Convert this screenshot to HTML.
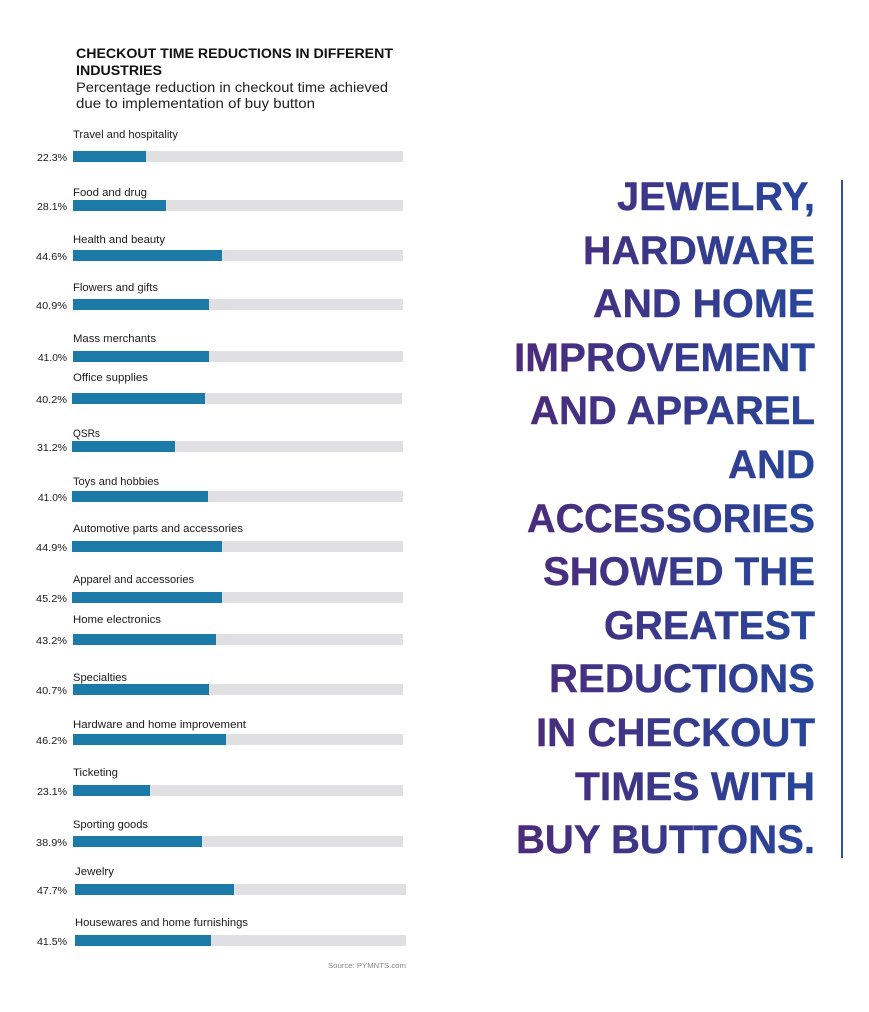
<!DOCTYPE html>
<html>
<head>
<meta charset="utf-8">
<style>
html,body{margin:0;padding:0;background:#fff;}
svg{display:block;}
text{font-family:"Liberation Sans",Arial,sans-serif;}
</style>
</head>
<body>
<svg width="869" height="1012" viewBox="0 0 869 1012" xmlns="http://www.w3.org/2000/svg">
<defs>
<linearGradient id="g" gradientUnits="userSpaceOnUse" x1="514" y1="0" x2="815" y2="0">
<stop offset="0" stop-color="#4d2a7a"/>
<stop offset="1" stop-color="#27469a"/>
</linearGradient>
</defs>
<rect width="869" height="1012" fill="#fff"/>

<!-- Title -->
<text x="76" y="58" font-size="13.5" font-weight="bold" fill="#111" textLength="317" lengthAdjust="spacingAndGlyphs">CHECKOUT TIME REDUCTIONS IN DIFFERENT</text>
<text x="76" y="75" font-size="13.5" font-weight="bold" fill="#111" textLength="86" lengthAdjust="spacingAndGlyphs">INDUSTRIES</text>
<text x="76" y="92" font-size="14" fill="#222" textLength="312" lengthAdjust="spacingAndGlyphs">Percentage reduction in checkout time achieved</text>
<text x="76" y="108" font-size="14" fill="#222" textLength="239" lengthAdjust="spacingAndGlyphs">due to implementation of buy button</text>

<g font-size="11" fill="#1a1a1a">
<text x="73" y="138" textLength="105" lengthAdjust="spacingAndGlyphs">Travel and hospitality</text>
<rect x="73" y="151" width="330" height="11" fill="#e0e0e2"/><rect x="73" y="151" width="73" height="11" fill="#1b7aa8"/>
<text x="67" y="161" text-anchor="end" font-size="10" textLength="30" lengthAdjust="spacingAndGlyphs">22.3%</text>

<text x="73" y="196" textLength="74" lengthAdjust="spacingAndGlyphs">Food and drug</text>
<rect x="73" y="200" width="330" height="11" fill="#e0e0e2"/><rect x="73" y="200" width="93" height="11" fill="#1b7aa8"/>
<text x="67" y="210" text-anchor="end" font-size="10" textLength="30" lengthAdjust="spacingAndGlyphs">28.1%</text>

<text x="73" y="243" textLength="92" lengthAdjust="spacingAndGlyphs">Health and beauty</text>
<rect x="73" y="250" width="330" height="11" fill="#e0e0e2"/><rect x="73" y="250" width="149" height="11" fill="#1b7aa8"/>
<text x="67" y="260" text-anchor="end" font-size="10" textLength="31" lengthAdjust="spacingAndGlyphs">44.6%</text>

<text x="73" y="291" textLength="85" lengthAdjust="spacingAndGlyphs">Flowers and gifts</text>
<rect x="73" y="299" width="330" height="11" fill="#e0e0e2"/><rect x="73" y="299" width="136" height="11" fill="#1b7aa8"/>
<text x="67" y="309" text-anchor="end" font-size="10" textLength="31" lengthAdjust="spacingAndGlyphs">40.9%</text>

<text x="73" y="342" textLength="83" lengthAdjust="spacingAndGlyphs">Mass merchants</text>
<rect x="73" y="351" width="330" height="11" fill="#e0e0e2"/><rect x="73" y="351" width="136" height="11" fill="#1b7aa8"/>
<text x="67" y="361" text-anchor="end" font-size="10" textLength="29" lengthAdjust="spacingAndGlyphs">41.0%</text>

<text x="73" y="381" textLength="75" lengthAdjust="spacingAndGlyphs">Office supplies</text>
<rect x="72" y="393" width="330" height="11" fill="#e0e0e2"/><rect x="72" y="393" width="133" height="11" fill="#1b7aa8"/>
<text x="67" y="403" text-anchor="end" font-size="10" textLength="31" lengthAdjust="spacingAndGlyphs">40.2%</text>

<text x="73" y="437" textLength="27" lengthAdjust="spacingAndGlyphs">QSRs</text>
<rect x="72" y="441" width="331" height="11" fill="#e0e0e2"/><rect x="72" y="441" width="103" height="11" fill="#1b7aa8"/>
<text x="67" y="451" text-anchor="end" font-size="10" textLength="30" lengthAdjust="spacingAndGlyphs">31.2%</text>

<text x="73" y="485" textLength="86" lengthAdjust="spacingAndGlyphs">Toys and hobbies</text>
<rect x="72" y="491" width="331" height="11" fill="#e0e0e2"/><rect x="72" y="491" width="136" height="11" fill="#1b7aa8"/>
<text x="67" y="501" text-anchor="end" font-size="10" textLength="29" lengthAdjust="spacingAndGlyphs">41.0%</text>

<text x="73" y="532" textLength="170" lengthAdjust="spacingAndGlyphs">Automotive parts and accessories</text>
<rect x="72" y="541" width="331" height="11" fill="#e0e0e2"/><rect x="72" y="541" width="150" height="11" fill="#1b7aa8"/>
<text x="67" y="551" text-anchor="end" font-size="10" textLength="31" lengthAdjust="spacingAndGlyphs">44.9%</text>

<text x="73" y="583" textLength="121" lengthAdjust="spacingAndGlyphs">Apparel and accessories</text>
<rect x="72" y="592" width="331" height="11" fill="#e0e0e2"/><rect x="72" y="592" width="150" height="11" fill="#1b7aa8"/>
<text x="67" y="602" text-anchor="end" font-size="10" textLength="31" lengthAdjust="spacingAndGlyphs">45.2%</text>

<text x="73" y="623" textLength="88" lengthAdjust="spacingAndGlyphs">Home electronics</text>
<rect x="73" y="634" width="330" height="11" fill="#e0e0e2"/><rect x="73" y="634" width="143" height="11" fill="#1b7aa8"/>
<text x="67" y="644" text-anchor="end" font-size="10" textLength="31" lengthAdjust="spacingAndGlyphs">43.2%</text>

<text x="73" y="681" textLength="54" lengthAdjust="spacingAndGlyphs">Specialties</text>
<rect x="73" y="684" width="330" height="11" fill="#e0e0e2"/><rect x="73" y="684" width="136" height="11" fill="#1b7aa8"/>
<text x="67" y="694" text-anchor="end" font-size="10" textLength="31" lengthAdjust="spacingAndGlyphs">40.7%</text>

<text x="73" y="728" textLength="173" lengthAdjust="spacingAndGlyphs">Hardware and home improvement</text>
<rect x="73" y="734" width="330" height="11" fill="#e0e0e2"/><rect x="73" y="734" width="153" height="11" fill="#1b7aa8"/>
<text x="67" y="744" text-anchor="end" font-size="10" textLength="31" lengthAdjust="spacingAndGlyphs">46.2%</text>

<text x="73" y="776" textLength="45" lengthAdjust="spacingAndGlyphs">Ticketing</text>
<rect x="73" y="785" width="330" height="11" fill="#e0e0e2"/><rect x="73" y="785" width="77" height="11" fill="#1b7aa8"/>
<text x="67" y="795" text-anchor="end" font-size="10" textLength="30" lengthAdjust="spacingAndGlyphs">23.1%</text>

<text x="73" y="828" textLength="75" lengthAdjust="spacingAndGlyphs">Sporting goods</text>
<rect x="73" y="836" width="330" height="11" fill="#e0e0e2"/><rect x="73" y="836" width="129" height="11" fill="#1b7aa8"/>
<text x="67" y="846" text-anchor="end" font-size="10" textLength="31" lengthAdjust="spacingAndGlyphs">38.9%</text>

<text x="75" y="875" textLength="39" lengthAdjust="spacingAndGlyphs">Jewelry</text>
<rect x="75" y="884" width="331" height="11" fill="#e0e0e2"/><rect x="75" y="884" width="159" height="11" fill="#1b7aa8"/>
<text x="67" y="894" text-anchor="end" font-size="10" textLength="30" lengthAdjust="spacingAndGlyphs">47.7%</text>

<text x="75" y="926" textLength="173" lengthAdjust="spacingAndGlyphs">Housewares and home furnishings</text>
<rect x="75" y="935" width="331" height="11" fill="#e0e0e2"/><rect x="75" y="935" width="136" height="11" fill="#1b7aa8"/>
<text x="67" y="945" text-anchor="end" font-size="10" textLength="30" lengthAdjust="spacingAndGlyphs">41.5%</text>
</g>

<text x="406" y="968" text-anchor="end" font-size="7" fill="#888" textLength="78" lengthAdjust="spacingAndGlyphs">Source: PYMNTS.com</text>

<!-- Right callout -->
<g font-size="39.5" font-weight="bold" fill="url(#g)" text-anchor="end" stroke="url(#g)" stroke-width="0.4">
<text x="815" y="210" textLength="198" lengthAdjust="spacingAndGlyphs">JEWELRY,</text>
<text x="815" y="264" textLength="232" lengthAdjust="spacingAndGlyphs">HARDWARE</text>
<text x="815" y="317" textLength="222" lengthAdjust="spacingAndGlyphs">AND HOME</text>
<text x="815" y="371" textLength="301" lengthAdjust="spacingAndGlyphs">IMPROVEMENT</text>
<text x="815" y="424" textLength="285" lengthAdjust="spacingAndGlyphs">AND APPAREL</text>
<text x="815" y="478" textLength="87" lengthAdjust="spacingAndGlyphs">AND</text>
<text x="815" y="532" textLength="288" lengthAdjust="spacingAndGlyphs">ACCESSORIES</text>
<text x="815" y="585" textLength="272" lengthAdjust="spacingAndGlyphs">SHOWED THE</text>
<text x="815" y="639" textLength="211" lengthAdjust="spacingAndGlyphs">GREATEST</text>
<text x="815" y="692" textLength="266" lengthAdjust="spacingAndGlyphs">REDUCTIONS</text>
<text x="815" y="746" textLength="279" lengthAdjust="spacingAndGlyphs">IN CHECKOUT</text>
<text x="815" y="800" textLength="240" lengthAdjust="spacingAndGlyphs">TIMES WITH</text>
<text x="815" y="853" textLength="299" lengthAdjust="spacingAndGlyphs">BUY BUTTONS.</text>
</g>
<rect x="841" y="180" width="2" height="678" fill="#2e4e9c"/>
</svg>
</body>
</html>
